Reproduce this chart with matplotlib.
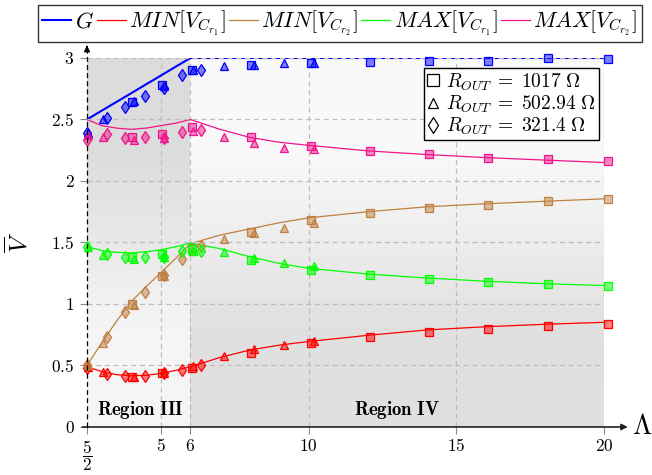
import numpy as np
import matplotlib
matplotlib.use("Agg")
import matplotlib.pyplot as plt
from matplotlib.colors import to_rgba
from matplotlib.lines import Line2D

plt.rcParams['mathtext.fontset'] = 'cm'
plt.rcParams['font.family'] = ['DejaVu Serif']

# ---- data ----
curve_x = [2.5, 3, 3.5, 4, 4.5, 5, 5.5, 6, 7, 8, 9, 10, 12, 14, 16, 18, 20]
g_curve = [2.5, 2.572, 2.643, 2.714, 2.786, 2.857, 2.929, 3.0, 3.0, 3.0, 3.0, 3.0, 3.0, 3.0, 3.0, 3.0, 3.0]
min1_curve = [0.49, 0.45, 0.425, 0.417, 0.42, 0.435, 0.46, 0.49, 0.565, 0.625, 0.665, 0.695, 0.745, 0.789, 0.815, 0.835, 0.851]
min2_curve = [0.50, 0.685, 0.86, 1.02, 1.14, 1.255, 1.37, 1.49, 1.56, 1.61, 1.66, 1.70, 1.75, 1.79, 1.815, 1.835, 1.855]
max1_curve = [1.466, 1.435, 1.42, 1.415, 1.425, 1.44, 1.465, 1.495, 1.45, 1.385, 1.33, 1.29, 1.244, 1.211, 1.185, 1.165, 1.15]
max2_curve = [2.50, 2.45, 2.43, 2.42, 2.43, 2.45, 2.47, 2.50, 2.42, 2.355, 2.315, 2.29, 2.245, 2.215, 2.19, 2.17, 2.15]

# R_OUT = 1017 ohm (squares)
sq_x = [4.03, 5.03, 6.05, 8.05, 10.08, 12.08, 14.08, 16.08, 18.1, 20.12]
sq_g = [2.645, 2.78, 2.90, 2.943, 2.956, 2.967, 2.976, 2.976, 2.997, 2.99]
sq_min1 = [0.41, 0.436, 0.482, 0.604, 0.685, 0.734, 0.775, 0.80, 0.824, 0.84]
sq_min2 = [0.997, 1.23, 1.458, 1.585, 1.683, 1.737, 1.783, 1.805, 1.837, 1.854]
sq_max1 = [1.38, 1.41, 1.45, 1.358, 1.276, 1.236, 1.203, 1.181, 1.16, 1.146]
sq_max2 = [2.36, 2.382, 2.44, 2.355, 2.287, 2.244, 2.22, 2.19, 2.179, 2.163]

# R_OUT = 502.94 ohm (triangles)
tr_x = [2.52, 3.05, 4.08, 5.1, 6.1, 7.13, 8.15, 9.18, 10.2]
tr_g = [2.393, 2.507, 2.65, 2.77, 2.905, 2.935, 2.94, 2.956, 2.96]
tr_min1 = [0.49, 0.45, 0.41, 0.44, 0.495, 0.577, 0.632, 0.667, 0.70]
tr_min2 = [0.50, 0.68, 0.99, 1.23, 1.433, 1.526, 1.58, 1.62, 1.661]
tr_max1 = [1.466, 1.398, 1.363, 1.38, 1.43, 1.425, 1.37, 1.336, 1.311]
tr_max2 = [2.374, 2.36, 2.33, 2.347, 2.406, 2.355, 2.31, 2.27, 2.257]

# R_OUT = 321.4 ohm (diamonds)
di_x = [2.5, 3.18, 3.8, 4.45, 5.12, 5.72, 6.35]
di_g = [2.39, 2.512, 2.604, 2.69, 2.76, 2.86, 2.905]
di_min1 = [0.477, 0.43, 0.417, 0.417, 0.436, 0.463, 0.504]
di_min2 = [0.504, 0.734, 0.932, 1.10, 1.235, 1.363, 1.47]
di_max1 = [1.46, 1.41, 1.385, 1.385, 1.38, 1.433, 1.43]
di_max2 = [2.333, 2.38, 2.35, 2.355, 2.35, 2.396, 2.415]

colors = ['#0000ff', '#ff0000', '#bf8040', '#00ff00', '#f0148c']
labels = [r'$G$', r'$MIN[V_{C_{r_1}}]$', r'$MIN[V_{C_{r_2}}]$',
          r'$MAX[V_{C_{r_1}}]$', r'$MAX[V_{C_{r_2}}]$']
curves = [g_curve, min1_curve, min2_curve, max1_curve, max2_curve]
squares = [sq_g, sq_min1, sq_min2, sq_max1, sq_max2]
triangles = [tr_g, tr_min1, tr_min2, tr_max1, tr_max2]
diamonds = [di_g, di_min1, di_min2, di_max1, di_max2]

x_ticks = [2.5, 5, 6, 10, 15, 20]
x_ticklabels = [r'$\dfrac{5}{2}$', r'$5$', r'$6$', r'$10$', r'$15$', r'$20$']
y_ticks = [0, 0.5, 1, 1.5, 2, 2.5, 3]
y_ticklabels = [r'$0$', r'$0.5$', r'$1$', r'$1.5$', r'$2$', r'$2.5$', r'$3$']

fig = plt.figure(figsize=(6.52, 4.75), dpi=100)
ax = fig.add_axes([0.1334, 0.1011, 0.793, 0.7768])

# shaded regions (vertical gradients)
grad3 = np.array([[0.86], [0.96]])
grad4 = np.array([[0.975], [0.875]])
ax.imshow(grad3, extent=(2.5, 6, 0, 3), cmap='gray', vmin=0, vmax=1,
          aspect='auto', interpolation='bilinear', origin='upper', zorder=0)
ax.imshow(grad4, extent=(6, 20, 0, 3), cmap='gray', vmin=0, vmax=1,
          aspect='auto', interpolation='bilinear', origin='upper', zorder=0)

lines = []
for c, lab, cy in zip(colors, labels, curves):
    lw = 1.5 if c == '#0000ff' else 0.9
    ln, = ax.plot(curve_x, cy, color=c, lw=lw, label=lab, zorder=2)
    lines.append(ln)

# grid (drawn over the curves, as in the original)
for yv in y_ticks[1:]:
    ax.plot([2.5, 20], [yv, yv], ls=(0, (4, 3)), color='#bdbdbd', lw=0.9, zorder=2.5)
for xv in x_ticks[1:]:
    ax.plot([xv, xv], [0, 3], ls=(0, (4, 3)), color='#bdbdbd', lw=0.9, zorder=1)

for c, sq, tr, di in zip(colors, squares, triangles, diamonds):
    fc = to_rgba(c, 0.5)
    ax.plot(sq_x, sq, ls='none', marker='s', ms=6, mfc=fc, mec=c, mew=0.9, zorder=3, clip_on=False)
    ax.plot(tr_x, tr, ls='none', marker='^', ms=5.5, mfc=fc, mec=c, mew=0.9, zorder=3, clip_on=False)
    ax.plot(di_x, di, ls='none', marker='d', ms=6.5, mfc=fc, mec=c, mew=0.9, zorder=3, clip_on=False)

ax.set_xlim(2.5, 20)
ax.set_ylim(0, 3)
for s in ax.spines.values():
    s.set_visible(False)
ax.set_xticks(x_ticks)
ax.set_xticklabels(x_ticklabels)
ax.set_yticks(y_ticks)
ax.set_yticklabels(y_ticklabels)
ax.tick_params(axis='both', direction='out', length=5, color='#888888', labelsize=12.5)
ax.tick_params(axis='x', pad=3)
ax.tick_params(axis='y', pad=4)
for lbl in ax.get_xticklabels():
    lbl.set_verticalalignment('top')

# axis lines with arrows
ax.annotate('', xy=(20.9, 0), xytext=(2.25, 0), annotation_clip=False,
            arrowprops=dict(arrowstyle='-|>', color='#222222', lw=1.2, mutation_scale=9))
ax.plot([2.5, 2.5], [0, 3.08], ls=(0, (4, 2.5)), color='k', lw=0.9, clip_on=False, zorder=4)
ax.annotate('', xy=(2.5, 3.125), xytext=(2.5, 3.07), annotation_clip=False,
            arrowprops=dict(arrowstyle='-|>', color='k', lw=0.9, mutation_scale=9))

ax.text(21.3, 0, r'$\Lambda$', fontsize=20, ha='center', va='center')
ax.set_ylabel(r'$\overline{V}$', fontsize=18, labelpad=14)

ax.text(4.3, 0.135, r'$\mathbf{Region\ III}$', fontsize=13.5, ha='center', va='center')
ax.text(13.0, 0.135, r'$\mathbf{Region\ IV}$', fontsize=13.5, ha='center', va='center')

# resistor legend (inside)
handles = [Line2D([], [], ls='none', marker='s', ms=9, mfc='none', mec='k', mew=0.9),
           Line2D([], [], ls='none', marker='^', ms=7.5, mfc='none', mec='k', mew=0.9),
           Line2D([], [], ls='none', marker='d', ms=8, mfc='none', mec='k', mew=0.9)]
r_labels = [r'$R_{OUT}\;=\;1017\ \Omega$', r'$R_{OUT}\;=\;502.94\ \Omega$', r'$R_{OUT}\;=\;321.4\ \Omega$']
leg2 = ax.legend(handles, r_labels, loc='upper right', bbox_to_anchor=(0.99, 0.972),
                 fontsize=14, frameon=True, fancybox=False, edgecolor='k',
                 handlelength=0.7, handletextpad=0.3, borderpad=0.15, labelspacing=0.05,
                 borderaxespad=0)
leg2.get_frame().set_linewidth(1.0)
leg2.get_frame().set_alpha(1)

# series legend (top)
leg = fig.legend(lines, labels, loc='upper center', bbox_to_anchor=(0.5215, 0.99),
                 ncol=5, fontsize=16, frameon=True, fancybox=False, edgecolor='k',
                 handlelength=1.3, handletextpad=0.15, columnspacing=0.15,
                 borderpad=0.18, borderaxespad=0)
leg.get_frame().set_linewidth(1.0)

fig.savefig('out.png', dpi=100)
